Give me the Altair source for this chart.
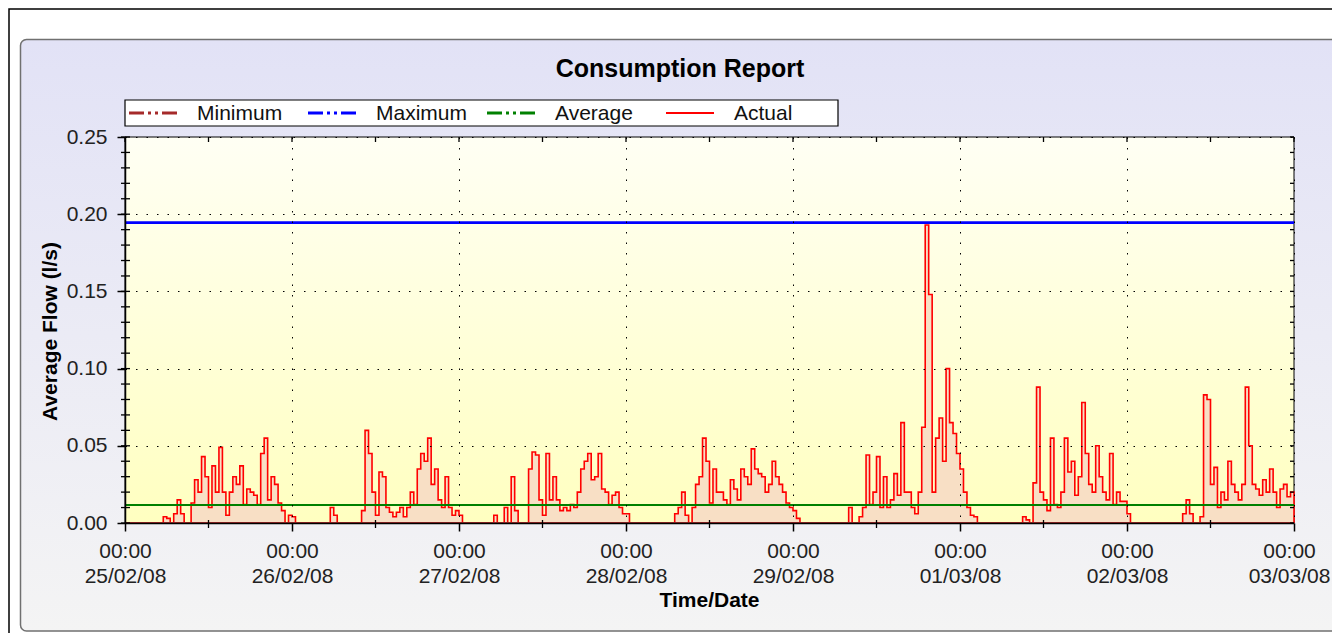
import altair as alt
import pandas as pd

# ---------------- data (30-minute averages, l/s) ----------------
day_25_02 = [0, 0, 0, 0, 0, 0, 0, 0, 0, 0, 0,
             0.004, 0.003, 0, 0.006, 0.015, 0.006, 0, 0, 0.013,
             0.028, 0.02, 0.043, 0.03, 0.01, 0.037, 0.02, 0.049, 0.02, 0.005,
             0.02, 0.03, 0.025, 0.037, 0.012, 0.022, 0.02, 0.018, 0.012, 0.045,
             0.055, 0.015, 0.03, 0.025, 0.013, 0.008, 0, 0.005]
day_26_02 = [0.004, 0, 0, 0, 0, 0, 0, 0, 0, 0, 0,
             0.01, 0.005, 0, 0, 0, 0, 0, 0, 0,
             0.008, 0.06, 0.045, 0.02, 0.005, 0.033, 0.03, 0.01, 0.007, 0.004,
             0.007, 0.01, 0.004, 0.01, 0.02, 0.012, 0.035, 0.045, 0.04, 0.055,
             0.025, 0.035, 0.015, 0.01, 0.03, 0.01, 0.005, 0.008]
day_27_02 = [0.005, 0, 0, 0, 0, 0, 0, 0, 0, 0, 0.005,
             0, 0, 0.01, 0, 0.03, 0.008, 0, 0, 0,
             0.035, 0.046, 0.044, 0.015, 0.005, 0.045, 0.015, 0.03, 0.015, 0.008,
             0.01, 0.008, 0.012, 0.01, 0.02, 0.035, 0.04, 0.045, 0.028, 0.03,
             0.045, 0.022, 0.02, 0.012, 0.018, 0.02, 0.01, 0.006]
day_28_02 = [0.006, 0, 0, 0, 0, 0, 0, 0, 0, 0, 0,
             0, 0, 0, 0.006, 0.01, 0.02, 0.005, 0, 0.01,
             0.025, 0.03, 0.055, 0.04, 0.013, 0.035, 0.02, 0.02, 0.015, 0.012,
             0.028, 0.022, 0.015, 0.035, 0.03, 0.025, 0.048, 0.035, 0.032, 0.03,
             0.02, 0.025, 0.04, 0.03, 0.025, 0.02, 0.013, 0.01]
day_29_02 = [0.008, 0.003, 0, 0, 0, 0, 0, 0, 0, 0, 0,
             0, 0, 0, 0, 0, 0.01, 0, 0, 0.004,
             0.01, 0.044, 0.012, 0.02, 0.043, 0.01, 0.03, 0.01, 0.015, 0.032,
             0.018, 0.065, 0.02, 0.02, 0.01, 0.006, 0.02, 0.062, 0.193, 0.148,
             0.02, 0.055, 0.068, 0.04, 0.1, 0.065, 0.058, 0.045]
day_01_03 = [0.035, 0.02, 0.01, 0.005, 0.004, 0, 0, 0, 0, 0, 0,
             0, 0, 0, 0, 0, 0, 0, 0.004, 0.002,
             0, 0.026, 0.088, 0.02, 0.015, 0.008, 0.055, 0.012, 0.01, 0.02,
             0.055, 0.033, 0.04, 0.018, 0.03, 0.078, 0.045, 0.025, 0.02, 0.05,
             0.03, 0.02, 0.015, 0.045, 0.012, 0.02, 0.014, 0.014]
day_02_03 = [0.006, 0, 0, 0, 0, 0, 0, 0, 0, 0, 0,
             0, 0, 0, 0, 0, 0.006, 0.015, 0.006, 0,
             0, 0.004, 0.083, 0.08, 0.025, 0.036, 0.01, 0.02, 0.015, 0.04,
             0.025, 0.02, 0.015, 0.025, 0.088, 0.05, 0.025, 0.022, 0.018, 0.028,
             0.02, 0.035, 0.02, 0.01, 0.022, 0.025, 0.017, 0.02]
closing_value = [0]

minimum_value = 0.0
maximum_value = 0.1945
average_value = 0.0117

series_names = ["Minimum", "Maximum", "Average", "Actual"]
series_colors = ["#A52A2A", "#0000FF", "#008000", "#FF0000"]

x_day_ticks = ["2008-02-25", "2008-02-26", "2008-02-27", "2008-02-28",
               "2008-02-29", "2008-03-01", "2008-03-02", "2008-03-03"]
x_half_day_ticks = ["2008-02-25T12:00:00", "2008-02-26T12:00:00", "2008-02-27T12:00:00",
                    "2008-02-28T12:00:00", "2008-02-29T12:00:00", "2008-03-01T12:00:00",
                    "2008-03-02T12:00:00"]
y_major_ticks = [0.0, 0.05, 0.10, 0.15, 0.20, 0.25]
y_minor_ticks = [0.00, 0.01, 0.02, 0.03, 0.04, 0.05, 0.06, 0.07, 0.08, 0.09,
                 0.10, 0.11, 0.12, 0.13, 0.14, 0.15, 0.16, 0.17, 0.18, 0.19,
                 0.20, 0.21, 0.22, 0.23, 0.24, 0.25]

# ---------------- build tables ----------------
values = day_25_02 + day_26_02 + day_27_02 + day_28_02 + day_29_02 + day_01_03 + day_02_03 + closing_value
times = pd.date_range("2008-02-25 00:00", periods=len(values), freq="30min").strftime("%Y-%m-%dT%H:%M:%S")
df = pd.DataFrame({"time": list(times), "flow": values})


def dt(s):
    d = pd.Timestamp(s)
    return alt.DateTime(year=d.year, month=d.month, date=d.day, hours=d.hour, minutes=d.minute)


W, H = 1169, 386
FONT = "Liberation Sans"

xscale = alt.Scale(domain=[dt(x_day_ticks[0]), dt(x_day_ticks[-1])], nice=False)
yscale = alt.Scale(domain=[0, 0.25], nice=False, zero=True)

x_axis = alt.Axis(values=[dt(s) for s in x_day_ticks],
                  labelExpr="[timeFormat(datum.value, '%H:%M'), timeFormat(datum.value, '%d/%m/%y')]",
                  labelLineHeight=25, labelPadding=9, labelFont=FONT, labelFontSize=21, labelColor="#222",
                  labelOverlap=False, labelFlush=False,
                  labelOffset={"condition": {"test": "datum.index == 1", "value": -5}, "value": 0},
                  tickSize=8, tickWidth=1.5, tickColor="black", domainColor="black", domainWidth=1.5,
                  grid=True, gridColor="black", gridDash=[1.5, 9], gridWidth=1, gridOpacity=1,
                  title="Time/Date", titleFont=FONT, titleFontSize=21, titleFontWeight="bold",
                  titleColor="black", titleX=584, titleY=83, titleAlign="center",
                  titleBaseline="alphabetic", zindex=1)
y_axis = alt.Axis(values=y_major_ticks, format=".2f",
                  labelPadding=10, labelFont=FONT, labelFontSize=21, labelColor="#222",
                  tickSize=8, tickWidth=1.5, tickColor="black", domainColor="black", domainWidth=1.5,
                  grid=True, gridColor="black", gridDash=[1.5, 9], gridWidth=1, gridOpacity=1,
                  title="Average Flow (l/s)", titleFont=FONT, titleFontSize=21, titleFontWeight="bold",
                  titleColor="black", titleX=-69, titleY=194, titleAngle=270, titleAlign="center",
                  titleBaseline="alphabetic", zindex=1)


def X(field):
    return alt.X(field, scale=xscale, axis=x_axis)


def Y(field):
    return alt.Y(field, scale=yscale, axis=y_axis)


one = pd.DataFrame({"k": [0]})

frame = alt.Chart(one).mark_rect(fill="white", stroke="black", strokeWidth=1.5).encode(
    x=alt.value(-116), x2=alt.value(1400), y=alt.value(-128), y2=alt.value(700))

panel_grad = alt.Gradient(gradient="linear",
                          stops=[alt.GradientStop(color="#E2E2F6", offset=0),
                                 alt.GradientStop(color="#F4F4F4", offset=1)],
                          x1=0, x2=0, y1=0, y2=1)
panel = alt.Chart(one).mark_rect(fill=panel_grad, stroke="#707070", strokeWidth=1.5, cornerRadius=6).encode(
    x=alt.value(-104.5), x2=alt.value(1400), y=alt.value(-97.5), y2=alt.value(494))

title = alt.Chart(one).mark_text(text="Consumption Report", font=FONT, fontSize=25, fontWeight="bold",
                                 color="black", align="center", baseline="alphabetic").encode(
    x=alt.value(555), y=alt.value(-60))

plot_grad = alt.Gradient(gradient="linear",
                         stops=[alt.GradientStop(color="#FFFFF4", offset=0),
                                alt.GradientStop(color="#FFFFC0", offset=1)],
                         x1=0, x2=0, y1=0, y2=1)
plot_bg = alt.Chart(one).mark_rect(fill=plot_grad, stroke="black", strokeWidth=1).encode(
    x=alt.value(0), x2=alt.value(W), y=alt.value(0), y2=alt.value(H))

area = alt.Chart(df).mark_area(interpolate="step-after", color="#F8DFC5").encode(
    x=X("time:T"), y=Y("flow:Q"))
line = alt.Chart(df).mark_line(interpolate="step-after", color="#FF0000", strokeWidth=1.6).encode(
    x=X("time:T"), y=Y("flow:Q"))

min_rule = alt.Chart(pd.DataFrame({"v": [minimum_value]})).mark_rule(color=series_colors[0], strokeWidth=2).encode(
    y=Y("v:Q"))
max_rule = alt.Chart(pd.DataFrame({"v": [maximum_value]})).mark_rule(color=series_colors[1], strokeWidth=2.8).encode(
    y=Y("v:Q"))
avg_rule = alt.Chart(pd.DataFrame({"v": [average_value]})).mark_rule(color=series_colors[2], strokeWidth=2).encode(
    y=Y("v:Q"))

# minor ticks
x_ticks_bottom = alt.Chart(pd.DataFrame({"t": x_half_day_ticks})).mark_rule(color="black", strokeWidth=1.3).encode(
    x=X("t:T"), y=alt.value(H - 3), y2=alt.value(H + 5))
x_ticks_top = alt.Chart(pd.DataFrame({"t": x_half_day_ticks + x_day_ticks})).mark_rule(color="black", strokeWidth=1.3).encode(
    x=X("t:T"), y=alt.value(0), y2=alt.value(5))
y_ticks_left = alt.Chart(pd.DataFrame({"v": y_minor_ticks})).mark_rule(color="black", strokeWidth=1.3).encode(
    y=Y("v:Q"), x=alt.value(-4), x2=alt.value(5))
y_ticks_right = alt.Chart(pd.DataFrame({"v": y_minor_ticks})).mark_rule(color="black", strokeWidth=1.3).encode(
    y=Y("v:Q"), x=alt.value(W - 4), x2=alt.value(W))

# legend, laid out in a framed row above the plot
step = 179
legend_df = pd.DataFrame({"series": series_names})
legend_df["sx"] = [4 + step * i for i in range(len(series_names))]
legend_df["sx2"] = legend_df["sx"] + 48
legend_df["tx"] = legend_df["sx"] + 68
legend_df["sw"] = [3, 3, 3, 2]
dash = [15, 4, 3, 4, 3, 4]
color_enc = alt.Color("series:N", scale=alt.Scale(domain=series_names, range=series_colors), legend=None)
legend_box = alt.Chart(one).mark_rect(fill="white", stroke="black", strokeWidth=1.2).encode(
    x=alt.value(0), x2=alt.value(713), y=alt.value(-37), y2=alt.value(-11))
legend_sym = alt.Chart(legend_df).mark_rule().encode(
    x=alt.X("sx:Q", scale=None), x2="sx2:Q", y=alt.value(-24),
    color=color_enc,
    strokeDash=alt.StrokeDash("series:N", scale=alt.Scale(domain=series_names, range=[dash, dash, dash, [1, 0]]), legend=None),
    strokeWidth=alt.StrokeWidth("sw:Q", scale=None, legend=None))
legend_txt = alt.Chart(legend_df).mark_text(font=FONT, fontSize=21, color="#111", align="left", baseline="middle").encode(
    x=alt.X("tx:Q", scale=None), y=alt.value(-23), text="series:N")

chart = alt.layer(
    frame, panel, title, plot_bg, area, line, min_rule, max_rule, avg_rule,
    x_ticks_bottom, x_ticks_top, y_ticks_left, y_ticks_right,
    legend_box, legend_sym, legend_txt
).properties(
    width=W, height=H,
    autosize=alt.AutoSizeParams(type="none"),
    padding={"left": 117, "top": 129, "right": 38, "bottom": 110}
).configure_view(stroke=None)

chart.save("out.html", embed_options={"renderer": "svg", "actions": False})
